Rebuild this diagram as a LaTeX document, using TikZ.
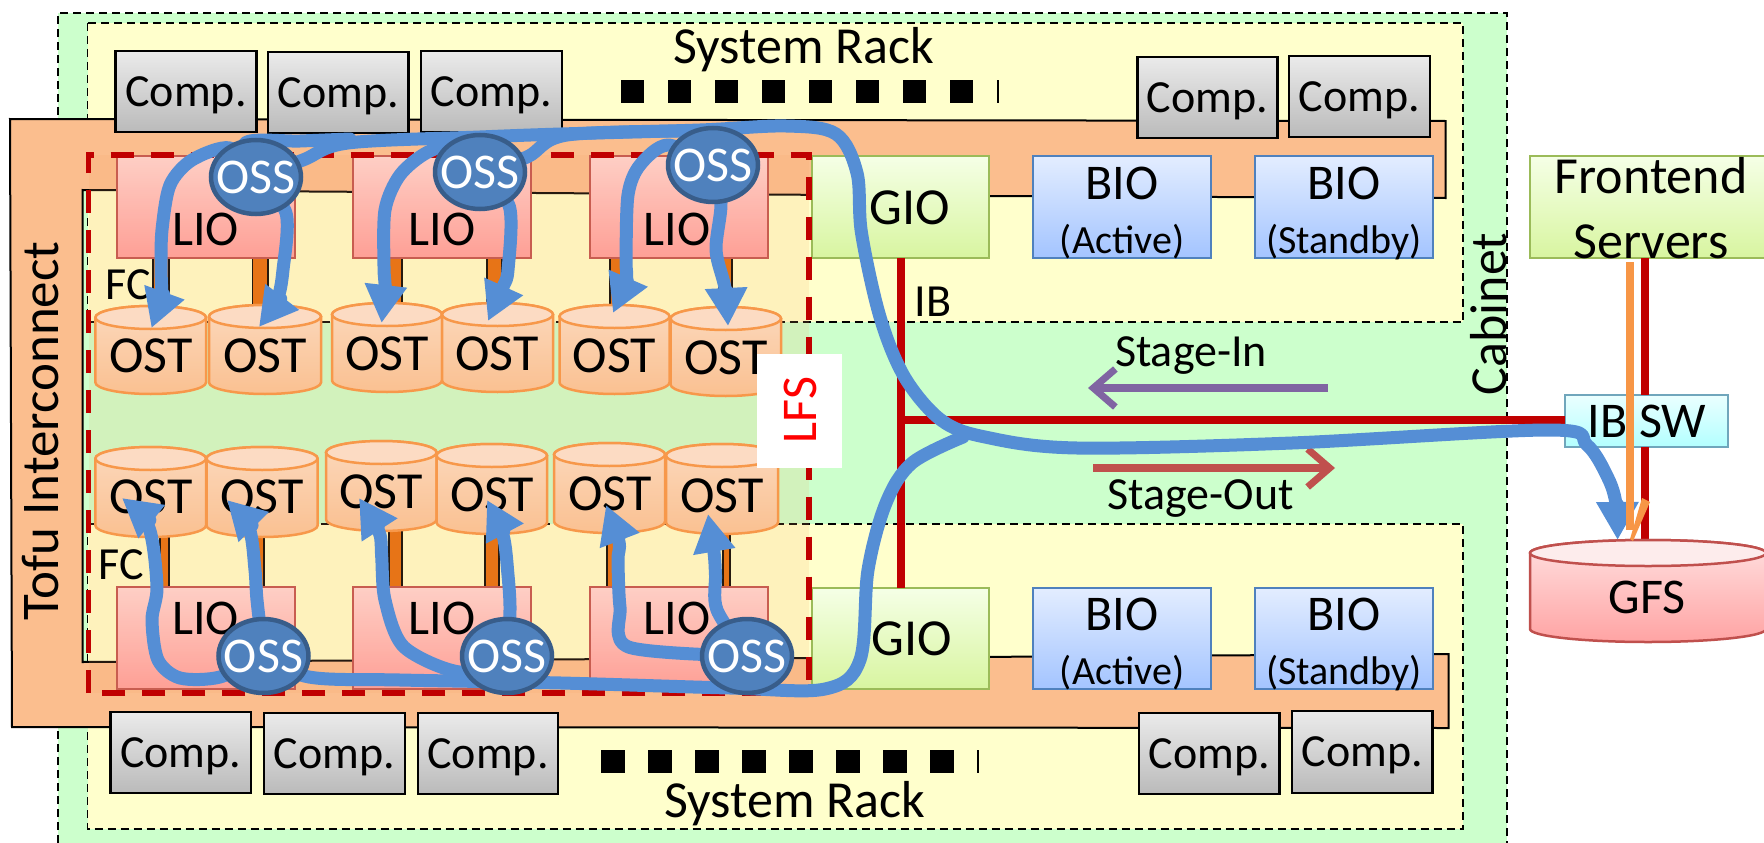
\documentclass[tikz,border=0pt]{standalone}
\usepackage{fontspec}
\setmainfont{Carlito}
\usetikzlibrary{arrows.meta,calc,shapes.geometric}
\pgfdeclarelayer{toplayer}
\pgfsetlayers{main,toplayer}
\definecolor{cabg}{HTML}{CCFFCC}
\definecolor{rackc}{HTML}{FFFFCC}
\definecolor{tofu}{HTML}{FBBE8E}
\definecolor{ibred}{HTML}{C00000}
\definecolor{flow}{HTML}{558ED5}
\definecolor{fcor}{HTML}{E46C0A}
\definecolor{ossf}{HTML}{4F81BD}
\definecolor{ossb}{HTML}{385D8A}
\definecolor{ostb}{HTML}{F79646}
\definecolor{redb}{HTML}{C0504D}
\definecolor{grnb}{HTML}{9BBB59}
\definecolor{blub}{HTML}{4F81BD}
\definecolor{purp}{HTML}{8064A2}
\definecolor{biotop}{HTML}{E3EDFF}
\definecolor{biobot}{HTML}{A3C4FF}
\definecolor{giotop}{HTML}{F5FFE6}
\definecolor{giobot}{HTML}{D8F5A0}
\tikzset{
  txt/.style={font=\fontsize{#1}{#1}\selectfont, inner sep=0pt, outer sep=0pt, text height={#1*0.644pt}, text depth=0pt, text=black},
  compbox/.style={draw=black, line width=2.5pt, top color=black!8, bottom color=black!27, txt=46},
  liobox/.style={draw=redb, line width=2pt, top color=red!16, bottom color=red!38!white},
  giobox/.style={draw=grnb, line width=2pt, top color=giotop, bottom color=giobot},
  biobox/.style={draw=blub, line width=2pt, top color=biotop, bottom color=biobot},
  swbox/.style={draw=cyan!60!black!70, line width=2pt, top color=cyan!8, bottom color=cyan!30},
  ossnode/.style={ellipse, draw=ossb, line width=4.5pt, fill=ossf, minimum width=90pt, minimum height=74pt, inner sep=0pt, font=\fontsize{50}{50}\selectfont, text=white, text height=32pt, text depth=0pt},
  flowline/.style={draw=flow, line width=13pt, line join=round, line cap=round},
  flowtip/.style={flowline, -{Triangle[length=38pt,width=40pt]}},
  fcline/.style={draw=black, line width=1.6pt, fill=fcor},
  ibline/.style={draw=ibred, line width=8.5pt},
  rackframe/.style={draw=black, line width=1.6pt, dash pattern=on 8pt off 5pt, fill=rackc},
}
\newcommand{\bx}[7][]{%
  \pgfmathsetmacro\bxw{#5-#3}\pgfmathsetmacro\bxh{#6-#4}%
  \pgfmathsetmacro\bxx{(#5+#3)/2}\pgfmathsetmacro\bxy{(#6+#4)/2}%
  \node[#1, minimum width=\bxw pt, minimum height=\bxh pt, outer sep=0pt, inner sep=0pt] (#2) at (\bxx,\bxy) {#7};}
\newcommand{\cyl}[8]{%
  \pgfmathsetmacro\crx{(#3-#2)/2}\pgfmathsetmacro\ccx{(#3+#2)/2}%
  \pgfmathsetmacro\cyt{#4+#6}\pgfmathsetmacro\cyb{#5-#6}%
  \path[#8] (#2,\cyt) -- (#2,\cyb) arc[start angle=180,end angle=360,x radius=\crx pt,y radius=#6 pt] -- (#3,\cyt) arc[start angle=0,end angle=180,x radius=\crx pt,y radius=#6 pt] -- cycle;
  \draw[draw=#1, line width=2.5pt, fill=#7] (\ccx,\cyt) ellipse[x radius=\crx pt,y radius=#6 pt];}
\newcommand{\osslabel}{\makebox[0pt]{OSS}}
\begin{document}
\begin{tikzpicture}[x=1pt,y=-1pt]
\useasboundingbox (0,0) rectangle (1764,843);
% cabinet
\fill[cabg] (58,13) rectangle (1507,843);
\draw[black,line width=1.6pt,dash pattern=on 8pt off 5pt] (58,843) -- (58,13) -- (1507,13) -- (1507,843);
% racks
\draw[rackframe] (87.5,23) rectangle (1463,322);
\draw[rackframe] (87.5,524) rectangle (1463,829);
% tofu
\draw[draw=black,line width=2pt,fill=tofu] (10,119) -- (1445.5,121) -- (1445.5,198) -- (990,196) -- (82.5,190) -- (82.5,662) -- (811,658) -- (1448.5,654) -- (1448.5,728) -- (12,727) -- cycle;
% comp boxes
\bx[compbox]{ct1}{115.6}{51}{256.5}{132}{Comp.}
\bx[compbox]{ct2}{268}{52}{408.5}{133}{Comp.}
\bx[compbox]{ct3}{421}{51}{562}{132}{Comp.}
\bx[compbox]{ct4}{1137.5}{57}{1277.7}{138}{Comp.}
\bx[compbox]{ct5}{1289}{56}{1430}{137}{Comp.}
\bx[compbox]{cb1}{110.5}{712}{251}{793}{Comp.}
\bx[compbox]{cb2}{264}{713}{405}{794}{Comp.}
\bx[compbox]{cb3}{418}{713}{558}{794}{Comp.}
\bx[compbox]{cb4}{1139}{713}{1279.5}{794}{Comp.}
\bx[compbox]{cb5}{1292}{711}{1432.6}{793}{Comp.}
% dots
\foreach \i in {0,...,7}{
  \fill[black] ({620.6+47.05*\i},80) rectangle ++(23.5,23);
  \fill[black] ({601+47.05*\i},750) rectangle ++(23.5,23);
}
\draw[black,line width=1.3pt] (998,80) -- (998,103);
\draw[black,line width=1.3pt] (978,750) -- (978,773);
% FC lines
\foreach \a/\b in {153/169,252.5/267.7,387/402,487/502}{
  \draw[fcline] (\a,255) rectangle (\b,310);
}
\draw[black,line width=1.6pt] (610,310) -- (610,255) -- (732,255) -- (732,310);
\fill[fcor] (611,256) rectangle (622,310);
\fill[fcor] (719,256) rectangle (731,310);
\draw[black,line width=1.6pt] (719,256) -- (719,310);
\foreach \a/\b in {160/169,252/264,389/402,485/499,607/617,723/730}{
  \draw[fcline] (\a,530) rectangle (\b,590);
}
% boxes
\bx[giobox]{giot}{812}{156}{989}{258}{}
\bx[giobox]{giob}{812}{588}{989}{689}{}
\bx[biobox]{biot1}{1033}{156}{1210.7}{258}{}
\bx[biobox]{biot2}{1255}{156}{1433}{258}{}
\bx[biobox]{biob1}{1033}{588}{1210.7}{689}{}
\bx[biobox]{biob2}{1255}{588}{1433}{689}{}
\bx[giobox]{fe}{1530}{156}{1766}{258}{}
\bx[swbox]{sw}{1565}{395}{1728}{447}{}
% IB red lines
\coordinate (ibj) at (901,420);
\draw[ibline] (giot.south -| ibj) -- (giob.north -| ibj);
\draw[ibline] (ibj) -- (sw.west |- ibj);
% LIO
\bx[liobox]{liot1}{116.7}{155.7}{294.6}{258}{}
\bx[liobox]{liot2}{353}{155.7}{531}{258}{}
\bx[liobox]{liot3}{590}{155.7}{768}{258}{}
\bx[liobox]{liob1}{116.7}{587}{294.6}{689}{}
\bx[liobox]{liob2}{353}{587}{531}{689}{}
\bx[liobox]{liob3}{590}{587}{768}{689}{}
% OST cylinders
\tikzset{ostfill/.style={draw=ostb,line width=2.5pt,top color=ostb!28!white,bottom color=ostb!55!white}}
\definecolor{ostcap}{HTML}{FDE4D4}
\foreach \xa/\xb/\ya/\yb in {95.4/206/306/394,209/321/305/394,332/442/303/392,442/553/303/392,559.5/669.5/305/394,670.6/781/307/396,95.4/206/447/537,206.5/317.6/447/537,326/436.6/441/531,436.6/547/444/534,554/665/443/533,666/778/444/534}{
  \cyl{ostb}{\xa}{\xb}{\ya}{\yb}{11.5}{ostcap}{ostfill}
}
% GFS and feeds
\coordinate (ifx) at (1645,300);
\draw[ibline] (fe.south -| ifx) -- (sw.north -| ifx);
\coordinate (gfst) at (1645,541);
\draw[ibline] (sw.south -| ifx) -- (gfst);
\tikzset{gfsfill/.style={draw=redb,line width=2.5pt,top color=red!12,bottom color=red!36!white}}
\definecolor{gfscap}{HTML}{FDECEC}
\cyl{redb}{1530}{1766}{540}{642}{13}{gfscap}{gfsfill}
% LFS overlay
\fill[ostb!55!tofu,opacity=.15] (88.7,155) rectangle (809,693);
\draw[ibred,line width=5.5pt,dash pattern=on 23pt off 17pt] (88.7,693) -- (88.7,155) -- (809,155) -- (809,693) -- cycle;
% labels
\foreach \nm/\xx/\yy in {lt1/205.7/229,lt2/442/229,lt3/677/229,lb1/205.7/618,lb2/442/618,lb3/677/618}{
  \node[txt=50] (\nm) at (\xx,\yy) {LIO};
}
\foreach \nm/\xx/\yy in {o1/151/356,o2/265/356,o3/387/354,o4/497/354,o5/614.5/356,o6/726/358,o7/151/497,o8/262/497,o9/381/492,o10/492/495,o11/610/494,o12/722/496}{
  \node[txt=52] (\nm) at (\xx,\yy) {OST};
}
\node[txt=52] (giol1) at (910,208) {GIO};
\node[txt=52] (giol2) at (912,639) {GIO};
\node[txt=50] (bl1) at (1122,183) {BIO};
\node[txt=40] (ba1) at (1122,241) {(Active)};
\node[txt=50] (bl2) at (1344,183) {BIO};
\node[txt=40] (ba2) at (1344,241) {(Standby)};
\node[txt=50] (bl3) at (1122,614) {BIO};
\node[txt=40] (ba3) at (1122,672) {(Active)};
\node[txt=50] (bl4) at (1344,614) {BIO};
\node[txt=40] (ba4) at (1344,672) {(Standby)};
\node[txt=52] (fel1) at (1651,177) {Frontend};
\node[txt=52] (fel2) at (1651,242) {Servers};
\node[txt=50] (swl) at (1647,421) {IB SW};
\node[txt=50] (gfsl) at (1647,597) {GFS};
\node[txt=52] (sr1) at (804,47) {System Rack};
\node[txt=52] (sr2) at (795,801) {System Rack};
\node[txt=53,rotate=90] (tofu) at (41,431) {Tofu Interconnect};
\node[txt=52,rotate=90] (cab) at (1490,314) {Cabinet};
\node[txt=46] (ibl) at (933,302) {IB};
\node[txt=46] (fc1) at (128,285) {FC};
\node[txt=46] (fc2) at (121.5,565) {FC};
\node[txt=46] (sil) at (1191,352) {Stage-In};
\node[txt=46] (sol) at (1200.5,495) {Stage-Out};
% LFS tag
\bx[fill=white]{lfsbox}{756.5}{354}{842}{468}{}
\node[txt=50,text=red,rotate=90] (lfs) at (800,410) {LFS};
% stage arrows
\coordinate (sia) at (1327.5,388); \coordinate (sib) at (1088,388);
\draw[purp,line width=8.5pt,-{Straight Barb[length=22pt,width=38pt,line width=7pt]}] (sia) -- (sib);
\coordinate (soa) at (1093,468); \coordinate (sob) at (1335,468);
\draw[redb,line width=8.5pt,-{Straight Barb[length=22pt,width=38pt,line width=7pt]}] (soa) -- (sob);
% OSS nodes on the top layer
\begin{pgfonlayer}{toplayer}
\node[ossnode] (oss1t) at (256,177) {\osslabel};
\node[ossnode] (oss2t) at (480,172) {\osslabel};
\node[ossnode] (oss3t) at (713,165) {\osslabel};
\node[ossnode] (oss1b) at (263.5,656) {\osslabel};
\node[ossnode] (oss2b) at (507,656) {\osslabel};
\node[ossnode] (oss3b) at (747,656) {\osslabel};
% orange feed, above the flow
\coordinate (orTop) at (1630,262); \coordinate (orTip) at (1630,539);
\draw[ostb,line width=8.5pt] (orTop) -- (1630,530);
\fill[ostb] (orTip) -- (1642,498) -- (1650,502) -- (1633,541) -- cycle;
\end{pgfonlayer}
\coordinate (join) at (963,437);
\coordinate (tipgfs) at (1617.6,540);
% flows
\draw[flowline] plot[smooth,tension=.55] coordinates {(oss2t.center) (527,157) (567,135) (696,131)};
\draw[flowline] plot[smooth,tension=.55] coordinates {(oss1t.center) (245,143) (300,141) (350,139)};
\draw[flowtip] plot[smooth,tension=.55] coordinates {(oss1t.center) (303,160) (348,143) (480,137) (561,134) (700,130) (786,126) (836,134) (857,173) (861.5,233) (880,317) (904.5,377) (941,420) (985,437) (1077,448) (1292,443) (1550,430) (1587,445) (1608,478) (1616,504) (tipgfs)};
\draw[flowline] plot[smooth,tension=.55] coordinates {(join) (912,463) (886,503) (868,570) (860,660) (825,689) (730,688) (561,683) (400,680) (309,677) (oss1b.center)};
\coordinate (t1) at (151.5,328); \coordinate (t2) at (259,327); \coordinate (t3) at (381.6,323);
\coordinate (t4) at (488,321); \coordinate (t5) at (613,313); \coordinate (t6) at (728,326);
\coordinate (b1) at (122,498); \coordinate (b2) at (227,500); \coordinate (b3) at (359,498);
\coordinate (b4) at (487,500); \coordinate (b5) at (606,505); \coordinate (b6) at (708,514);
\draw[flowtip] plot[smooth,tension=.5] coordinates {(oss1t.center) (230,148) (192,160) (170,185) (162,230) (161,267) (161,297) (t1)};
\draw[flowtip] plot[smooth,tension=.5] coordinates {(oss1t.center) (286,213) (283,270) (277,300) (t2)};
\draw[flowtip] plot[smooth,tension=.5] coordinates {(oss2t.center) (465,142) (428,152) (400,175) (385,210) (384,267) (385,288) (t3)};
\draw[flowtip] plot[smooth,tension=.5] coordinates {(oss2t.center) (509.5,207) (508,270) (503,287) (t4)};
\draw[flowtip] plot[smooth,tension=.5] coordinates {(oss3t.center) (668,145) (640,165) (628,195) (626,260) (626,280) (t5)};
\draw[flowtip] plot[smooth,tension=.5] coordinates {(oss3t.center) (721,203) (716,250) (725,288) (t6)};
\draw[flowtip] plot[smooth,tension=.5] coordinates {(oss1b.center) (220,677) (180,678) (158,660) (152,620) (157,587) (149,528) (b1)};
\draw[flowtip] plot[smooth,tension=.5] coordinates {(oss1b.center) (257,600) (255,570) (249,528) (b2)};
\draw[flowtip] plot[smooth,tension=.5] coordinates {(oss2b.center) (460,672) (404,647) (385,600) (381.6,555) (379,532) (b3)};
\draw[flowtip] plot[smooth,tension=.5] coordinates {(oss2b.center) (510,610) (508,575) (503,535) (b4)};
\draw[flowtip] plot[smooth,tension=.5] coordinates {(oss3b.center) (628.5,647) (620,607) (618,560) (619,542) (b5)};
\draw[flowtip] plot[smooth,tension=.5] coordinates {(oss3b.center) (717,610) (715.5,575) (714,552) (b6)};
\end{tikzpicture}
\end{document}
